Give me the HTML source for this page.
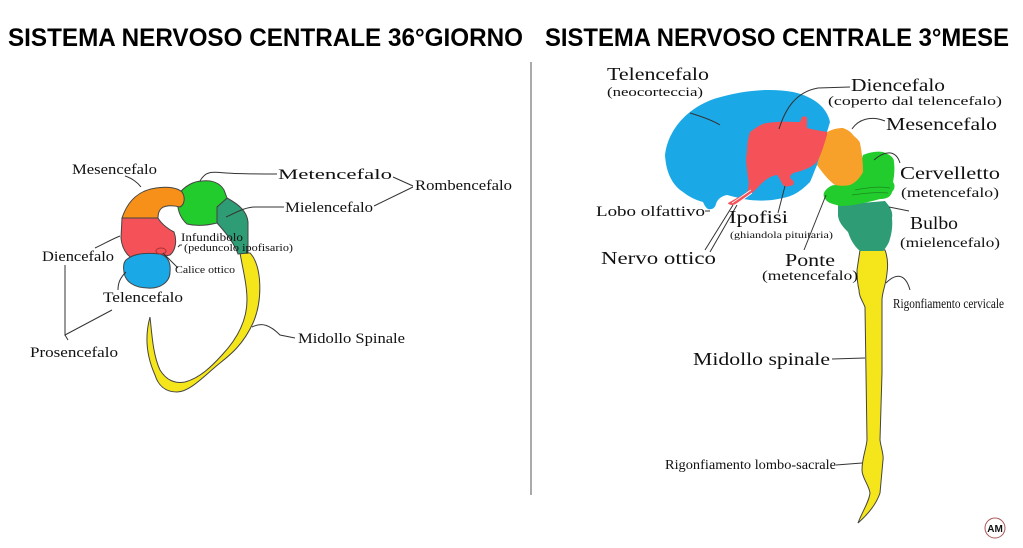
<!DOCTYPE html>
<html><head><meta charset="utf-8"><style>
html,body{margin:0;padding:0;background:#fff;width:1023px;height:548px;overflow:hidden}
svg{display:block}
text{font-family:"Liberation Serif",serif;fill:#111}
.t{font-family:"Liberation Sans",sans-serif;font-weight:bold;font-size:25px;fill:#000}
.l{fill:none;stroke:#333;stroke-width:1}
.o{stroke:#444;stroke-width:1}
</style></head><body>
<svg width="1023" height="548" viewBox="0 0 1023 548" xmlns="http://www.w3.org/2000/svg">
<text class="t" x="8" y="46" textLength="515" lengthAdjust="spacingAndGlyphs">SISTEMA NERVOSO CENTRALE 36°GIORNO</text>
<text class="t" x="545" y="46" textLength="464" lengthAdjust="spacingAndGlyphs">SISTEMA NERVOSO CENTRALE 3°MESE</text>
<line x1="531" y1="62" x2="531" y2="495" stroke="#555" stroke-width="1"/>

<!-- LEFT embryo -->
<path class="o" fill="#f5e61c" d="M240,253 L250,253 C262,265 263,300 253,323 C243,345 230,355 220,363 C205,375 190,392 177,392 C165,392 158,385 155,375 C146,355 145,335 150,317 C152,335 153,355 160,370 C166,380 175,384 185,382 C200,378 212,366 222,355 C238,338 247,320 247,300 C247,285 243,270 240,253 Z"/>
<path class="o" fill="#2e9c74" d="M217,207 L227,198 C240,205 247,212 248,222 L248,253 L238,254 C235,245 228,235 217,223 Z"/>
<path class="o" fill="#22cc2c" d="M178,195 C185,185 195,181 202,181 C212,180 220,183 224,190 L227,198 L217,207 L217,223 C205,226 195,226 187,224 C180,218 176,208 178,195 Z"/>
<path class="o" fill="#f69018" d="M122,218 C128,200 140,190 156,188 C168,186 178,188 182,192 C186,198 184,205 180,207 C172,205 163,205 160,210 C158,213 158,216 158,218 Z"/>
<path class="o" fill="#f45158" d="M122,218 L158,218 C162,225 170,230 174,232 C177,240 176,250 170,255 C160,258 150,253 140,258 C130,262 122,250 121,238 Z"/>
<path class="o" fill="#1ba8e6" d="M126,260 C135,252 150,253 160,254 C168,256 171,263 170,272 C170,282 160,289 148,288 C135,288 125,282 124,272 C123,266 124,262 126,260 Z"/>
<ellipse cx="161" cy="251" rx="5" ry="3" fill="none" stroke="#a33" stroke-width="1"/>

<path class="l" d="M125,176 C132,178 138,183 141,187"/>
<path class="l" d="M200,181 C206,170 214,172 226,173 C240,174 255,174 277,174"/>
<path class="l" d="M393,177 L413,186 M374,206 L413,187"/>
<path class="l" d="M226,217 C235,213 245,207 255,207 L284,207"/>
<path class="l" d="M120,236 C110,240 102,245 95,248"/>
<path class="l" d="M178,247 L180,245 L182,245"/>
<path class="l" d="M163,253 L178,268"/>
<path class="l" d="M126,272 C120,278 118,283 118,290"/>
<path class="l" d="M65,265 L65,335 L112,310 M65,335 L68,340"/>
<path class="l" d="M252,327 C262,322 270,325 280,335 L295,338"/>

<text x="72" y="174" font-size="15" textLength="85" lengthAdjust="spacingAndGlyphs">Mesencefalo</text>
<text x="278" y="179" font-size="15" textLength="114" lengthAdjust="spacingAndGlyphs">Metencefalo</text>
<text x="415" y="190" font-size="15" textLength="97" lengthAdjust="spacingAndGlyphs">Rombencefalo</text>
<text x="285" y="212" font-size="15" textLength="88" lengthAdjust="spacingAndGlyphs">Mielencefalo</text>
<text x="42" y="261" font-size="15" textLength="72" lengthAdjust="spacingAndGlyphs">Diencefalo</text>
<text x="181" y="241" font-size="12" textLength="62" lengthAdjust="spacingAndGlyphs">Infundibolo</text>
<text x="184" y="251" font-size="10" textLength="109" lengthAdjust="spacingAndGlyphs">(peduncolo ipofisario)</text>
<text x="175" y="273" font-size="10" textLength="60" lengthAdjust="spacingAndGlyphs">Calice ottico</text>
<text x="103" y="302" font-size="15" textLength="80" lengthAdjust="spacingAndGlyphs">Telencefalo</text>
<text x="30" y="357" font-size="15" textLength="88" lengthAdjust="spacingAndGlyphs">Prosencefalo</text>
<text x="298" y="343" font-size="15" textLength="107" lengthAdjust="spacingAndGlyphs">Midollo Spinale</text>

<!-- RIGHT brain -->
<path class="o" fill="#f5e61c" d="M860,250 L885,250 C888,258 888,266 887,273 C886,285 882,292 882,300 L882,373 L880,440 C881,448 884,455 883,460 C882,472 881,483 880,493 C876,505 866,516 858,523 C862,512 869,502 870,493 C869,485 862,478 862,470 C862,458 866,450 867,440 L866,373 L865,307 C862,300 859,296 859,290 C857,282 857,276 857,270 Z"/>
<path fill="#2e9c74" d="M838,205 L885,201 C891,208 893,212 892,218 C893,228 891,236 889,242 C887,246 885,249 883,251 L860,251 C853,245 850,238 848,232 C842,226 839,222 838,216 Z"/>
<path fill="#22cc2c" d="M863,155 C870,152 877,151 883,152 C891,155 894,158 894,162 C895,170 894,177 893,182 C896,186 894,190 892,192 C891,197 886,199 880,199 C865,203 852,206 840,206 C833,204 828,203 826,200 C823,197 823,194 825,191 C828,187 832,185 835,185 C845,183 850,183 855,182 Z"/>
<path fill="none" stroke="#1a8a20" stroke-width="0.8" d="M855,190 C865,188 880,186 890,188 M852,195 C865,193 878,192 888,193"/>
<path fill="#f7a12a" d="M827,132 C833,129 838,128 843,128 C848,130 851,132 853,135 C856,138 859,140 860,143 C862,153 863,162 863,172 C860,178 855,183 850,185 C845,186 840,186 835,185 C828,180 822,172 817,165 Z"/>
<path fill="#1ba8e6" d="M665,155 C668,128 690,106 717,98 C745,90 770,88 793,92 C815,97 827,108 830,122 L827,132 L817,165 C814,172 812,178 810,182 C800,192 793,196 783,198 C770,201 760,201 750,200 C742,199 735,197 727,195 C721,196 717,200 716,204 C715,208 712,210 708,209 C705,207 704,204 703,202 C695,200 688,196 683,192 C672,185 666,172 665,155 Z"/>
<path fill="#f45158" d="M750,132 C756,128 760,124 767,123 C780,121 790,122 800,122 L802,117 C804,116 806,116 807,118 L807,128 C815,130 822,131 827,132 L827,135 C824,145 821,155 817,162 C812,167 805,170 797,172 C792,173 790,175 790,178 C793,180 795,182 793,185 C788,187 785,187 783,185 C780,180 779,177 777,175 C770,176 765,180 760,185 C753,193 742,202 733,205 C730,205 728,204 728,203 C735,199 743,195 747,192 C749,187 749,182 748,178 C747,168 745,160 747,152 C747,145 748,138 750,132 Z"/>
<path fill="none" stroke="#fff" stroke-width="0.8" d="M732,203 C740,198 746,193 751,190 M735,205 C742,200 748,196 752,193"/>

<path class="l" d="M690,113 C700,116 712,120 720,125"/>
<path class="l" d="M779,129 C785,110 795,92 818,88 L850,87"/>
<path class="l" d="M852,129 C858,120 870,115 885,121"/>
<path class="l" d="M874,160 C885,150 896,150 900,163"/>
<path class="l" d="M889,207 L909,211"/>
<path class="l" d="M705,211 L710,211"/>
<path class="l" d="M733,205 L705,250 M737,205 L710,252"/>
<path class="l" d="M785,186 L778,213"/>
<path class="l" d="M826,195 L804,250"/>
<path class="l" d="M886,283 C895,274 905,272 910,290"/>
<path class="l" d="M832,359 L865,358"/>
<path class="l" d="M836,465 L862,463"/>

<text x="607" y="80" font-size="18" textLength="102" lengthAdjust="spacingAndGlyphs">Telencefalo</text>
<text x="607" y="96" font-size="13" textLength="96" lengthAdjust="spacingAndGlyphs">(neocorteccia)</text>
<text x="851" y="91" font-size="18" textLength="94" lengthAdjust="spacingAndGlyphs">Diencefalo</text>
<text x="828" y="105" font-size="13" textLength="174" lengthAdjust="spacingAndGlyphs">(coperto dal telencefalo)</text>
<text x="886" y="130" font-size="18" textLength="111" lengthAdjust="spacingAndGlyphs">Mesencefalo</text>
<text x="900" y="179" font-size="18" textLength="100" lengthAdjust="spacingAndGlyphs">Cervelletto</text>
<text x="901" y="197" font-size="14" textLength="98" lengthAdjust="spacingAndGlyphs">(metencefalo)</text>
<text x="910" y="229" font-size="18" textLength="48" lengthAdjust="spacingAndGlyphs">Bulbo</text>
<text x="900" y="247" font-size="14" textLength="100" lengthAdjust="spacingAndGlyphs">(mielencefalo)</text>
<text x="596" y="216" font-size="15" textLength="109" lengthAdjust="spacingAndGlyphs">Lobo olfattivo</text>
<text x="729" y="223" font-size="18" textLength="59" lengthAdjust="spacingAndGlyphs">Ipofisi</text>
<text x="730" y="238" font-size="9" textLength="103" lengthAdjust="spacingAndGlyphs">(ghiandola pituitaria)</text>
<text x="601" y="264" font-size="18" textLength="115" lengthAdjust="spacingAndGlyphs">Nervo ottico</text>
<text x="785" y="266" font-size="18" textLength="50" lengthAdjust="spacingAndGlyphs">Ponte</text>
<text x="762" y="280" font-size="14" textLength="96" lengthAdjust="spacingAndGlyphs">(metencefalo)</text>
<text x="893" y="308" font-size="14" textLength="111" lengthAdjust="spacingAndGlyphs">Rigonfiamento cervicale</text>
<text x="693" y="365" font-size="18" textLength="137" lengthAdjust="spacingAndGlyphs">Midollo spinale</text>
<text x="665" y="469" font-size="14" textLength="171" lengthAdjust="spacingAndGlyphs">Rigonfiamento lombo-sacrale</text>

<circle cx="995" cy="528" r="10" fill="#fff" stroke="#a55" stroke-width="1"/>
<text x="995" y="532" font-size="10" font-weight="bold" text-anchor="middle" style="font-family:'Liberation Sans',sans-serif">AM</text>
</svg>
</body></html>
